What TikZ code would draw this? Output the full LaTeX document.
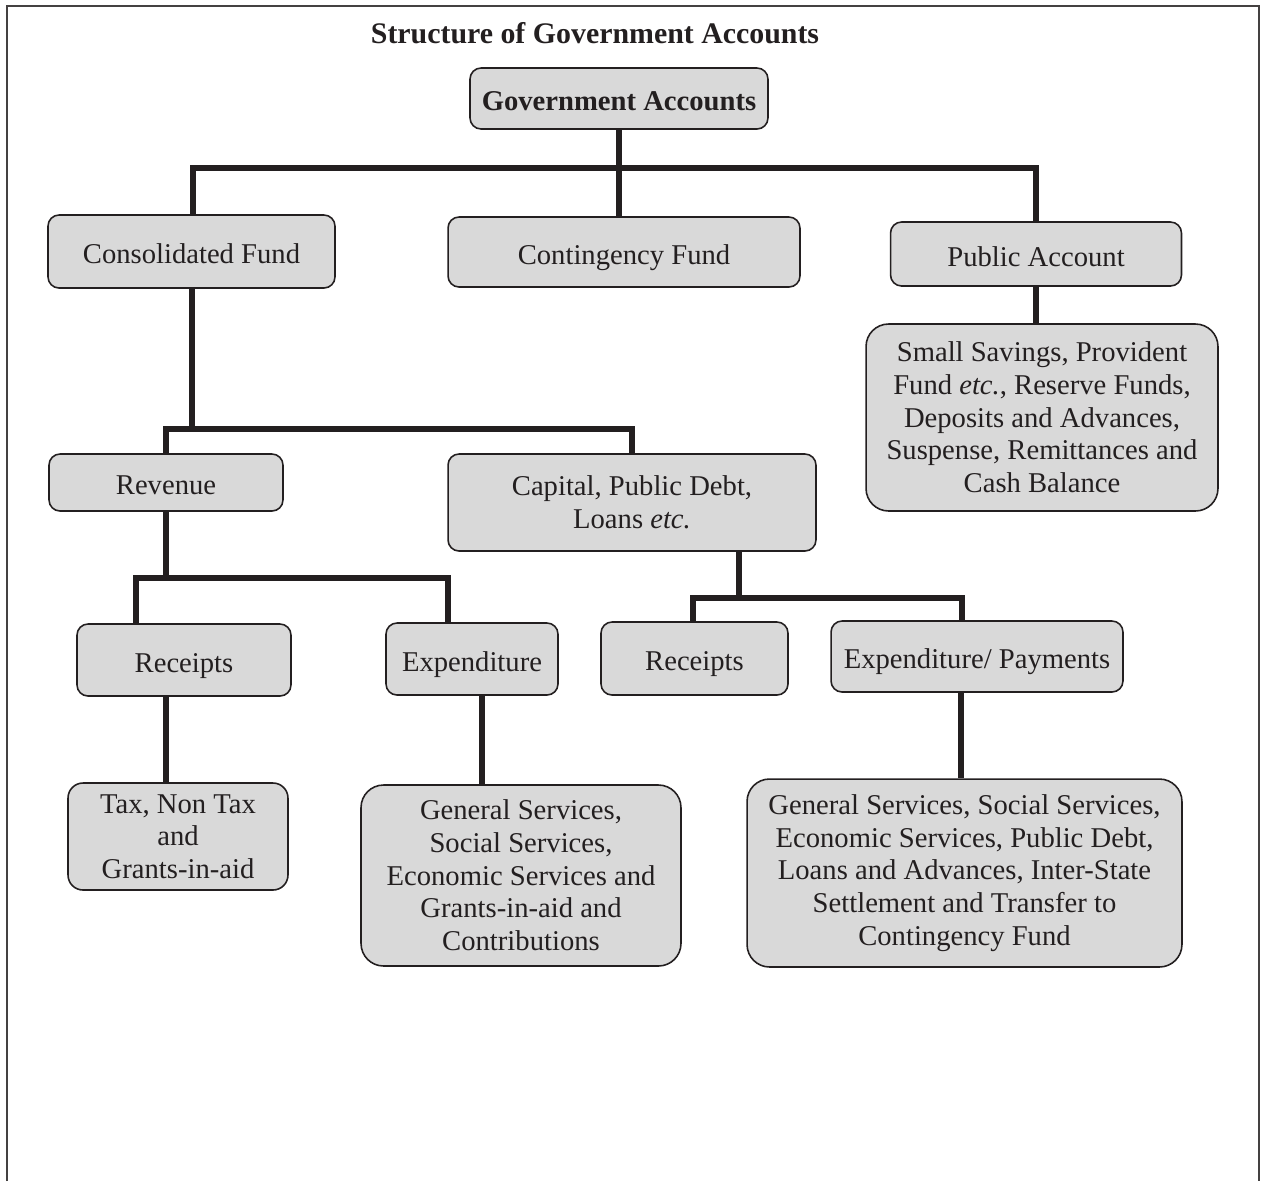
\documentclass[tikz,border=0pt]{standalone}
\usepackage{fontspec}
\setmainfont{Liberation Serif}
\definecolor{boxgray}{RGB}{217,217,217}
\definecolor{ink}{RGB}{35,31,32}
\tikzset{
    box/.style={draw=ink, fill=boxgray, line width=0.9pt, rounded corners=0.22cm,
        inner sep=0pt, align=center, text=ink, font=\fontsize{16.3}{18.6}\selectfont},
    oneline/.style={box, text height=14pt, text depth=0pt},
    bigbox/.style={box, rounded corners=0.45cm},
    link/.style={draw=ink, line width=3.1pt},
    frame/.style={draw=ink!85, line width=1.1pt}
}
\begin{document}
\begin{tikzpicture}[x=0.02cm, y=-0.02cm]
            \useasboundingbox (0,0) rectangle (1266,1181);
            \draw[frame] (7,1181) -- (7,6) -- (1259,6) -- (1259,1181);

            \node[text=ink, font=\fontsize{17}{19}\selectfont\bfseries] (title) at (595, 33) {Structure of Government Accounts};

            \node[oneline, minimum width=5.96cm, minimum height=1.22cm, font=\fontsize{16.3}{18.6}\selectfont\bfseries] (gov) at (619, 98.5) {Government Accounts};

            \node[oneline, minimum width=5.74cm, minimum height=1.46cm] (cons) at (191.5, 251.5) {Consolidated Fund};
            \node[oneline, minimum width=7.04cm, minimum height=1.40cm] (cont) at (624, 252) {Contingency Fund};
            \node[oneline, minimum width=5.82cm, minimum height=1.28cm] (pub) at (1036, 254) {Public Account};
            \node[bigbox, minimum width=7.04cm, minimum height=3.74cm] (pubsub) at (1042, 417.5)
                {Small Savings, Provident\\ Fund \textit{etc.}, Reserve Funds,\\ Deposits and Advances,\\ Suspense, Remittances and\\ Cash Balance};

            \node[oneline, minimum width=4.68cm, minimum height=1.14cm] (rev) at (166, 482.5) {Revenue};
            \node[box, minimum width=7.36cm, minimum height=1.94cm] (cap) at (632, 502.5) {Capital, Public Debt,\\ Loans \textit{etc.}};

            \node[oneline, minimum width=4.28cm, minimum height=1.44cm] (lrec) at (184, 660) {Receipts};
            \node[oneline, minimum width=3.44cm, minimum height=1.44cm] (exp) at (472, 659) {Expenditure};
            \node[oneline, minimum width=3.74cm, minimum height=1.46cm] (rrec) at (694.5, 658.5) {Receipts};
            \node[oneline, minimum width=5.84cm, minimum height=1.42cm] (exppay) at (977, 656.5) {Expenditure/ Payments};

            \node[box, rounded corners=0.3cm, minimum width=4.40cm, minimum height=2.14cm] (tax) at (178, 836.5)
                {Tax, Non Tax\\ and\\ Grants-in-aid};
            \node[bigbox, minimum width=6.40cm, minimum height=3.62cm] (gsl) at (521, 875.5)
                {General Services,\\ Social Services,\\ Economic Services and\\ Grants-in-aid and\\ Contributions};
            \node[bigbox, minimum width=8.70cm, minimum height=3.76cm] (gsr) at (964.5, 873)
                {General Services, Social Services,\\ Economic Services, Public Debt,\\ Loans and Advances, Inter-State\\ Settlement and Transfer to\\ Contingency Fund};

            \coordinate (busA) at (619, 168);
            \coordinate (busB) at (192, 429);
            \coordinate (busC) at (166, 578);
            \coordinate (busD) at (739, 598);

            \draw[link] (gov.south) -- (gov.south |- cont.north);
            \draw[link] (cons.north -| 193,0) |- (busA) -| (pub.north);
            \draw[link] (pub.south) -- (pub.south |- pubsub.north);

            \draw[link] (cons.south -| busB) -- (busB);
            \draw[link] (rev.north) |- (busB) -| (cap.north);

            \draw[link] (rev.south) -- (busC);
            \draw[link] (lrec.north -| 136,0) |- (busC) -| (exp.north -| 448,0);
            \draw[link] (cap.south -| busD) -- (busD);
            \draw[link] (rrec.north -| 693,0) |- (busD) -| (exppay.north -| 962,0);

            \draw[link] (lrec.south -| 166,0) -- (tax.north -| 166,0);
            \draw[link] (exp.south -| 482,0) -- (gsl.north -| 482,0);
            \draw[link] (exppay.south -| 961,0) -- (gsr.north -| 961,0);

        \end{tikzpicture}
\end{document}
